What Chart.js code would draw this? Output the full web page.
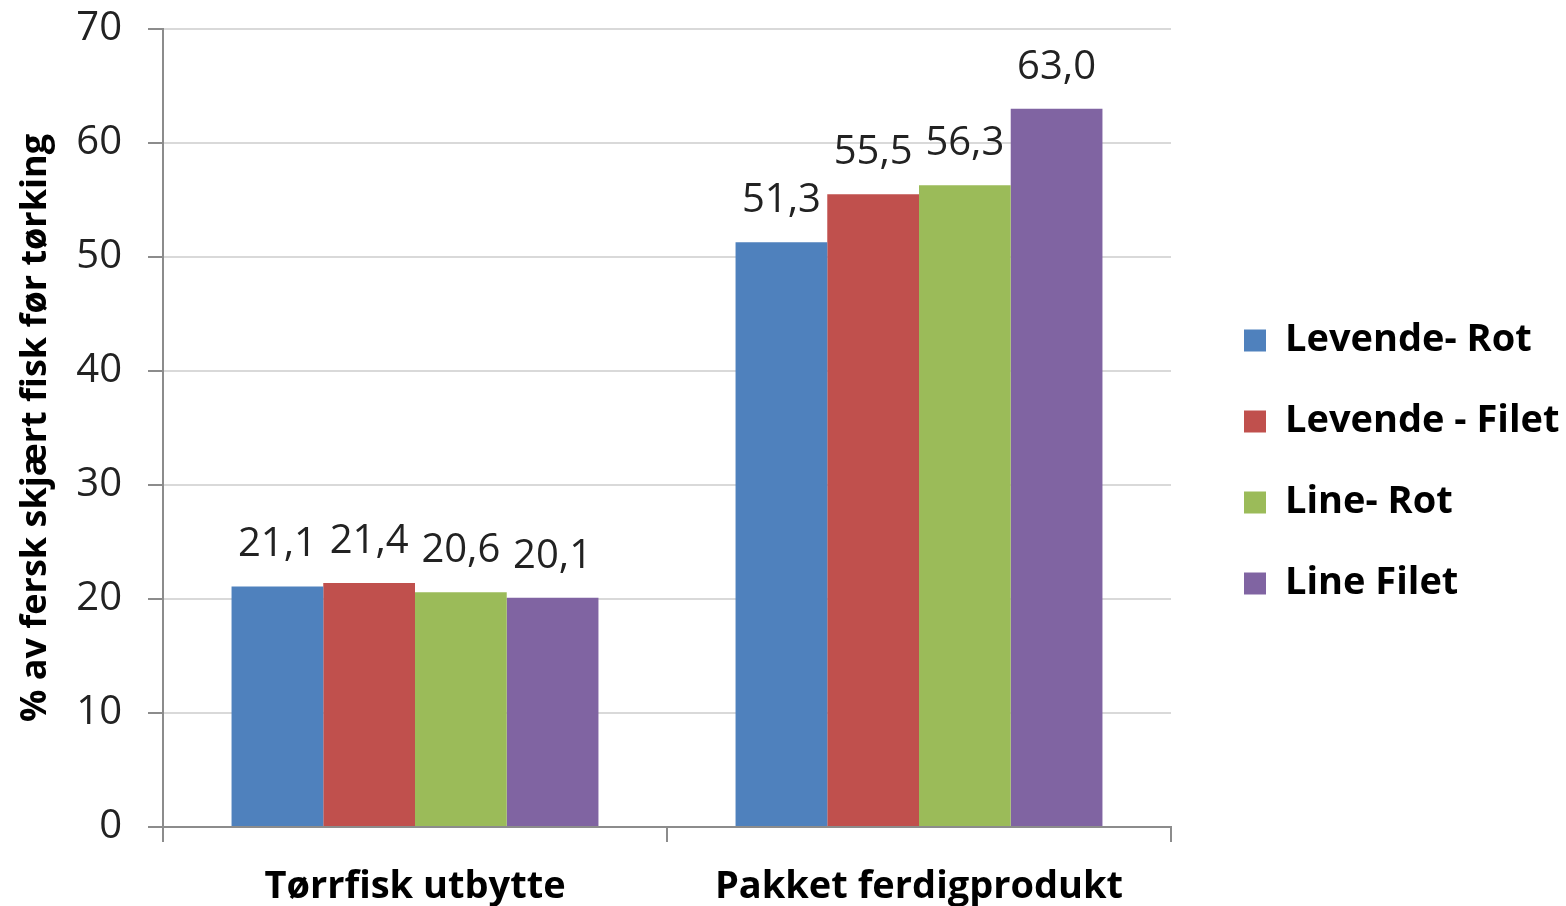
<!DOCTYPE html>
<html>
<head>
<meta charset="utf-8">
<script src="https://cdn.jsdelivr.net/npm/chart.js@4/dist/chart.umd.min.js"></script>
<style>
html,body{margin:0;padding:0;background:#fff;}
canvas{display:block;}
</style>
</head>
<body>
<canvas id="c" width="1566" height="906"></canvas>
<script>
const categories = ['Tørrfisk utbytte', 'Pakket ferdigprodukt'];
const seriesNames = ['Levende- Rot', 'Levende - Filet', 'Line- Rot', 'Line Filet'];
const levendeRot = [21.1, 51.3];
const levendeFilet = [21.4, 55.5];
const lineRot = [20.6, 56.3];
const lineFilet = [20.1, 63.0];
const seriesColors = ['#4F81BD', '#C0504D', '#9BBB59', '#8064A2'];
const yTicks = [0, 10, 20, 30, 40, 50, 60, 70];
const yTitle = '% av fersk skjært fisk før tørking';

const seriesValues = [levendeRot, levendeFilet, lineRot, lineFilet];

const NUM_FONT = '"Open Sans", sans-serif';
const BOLD_FONT = '"Open Sans", sans-serif';

const dataLabels = {
  id: 'dataLabels',
  afterDatasetsDraw(chart) {
    const ctx = chart.ctx;
    ctx.save();
    ctx.font = '40px ' + NUM_FONT;
    ctx.fillStyle = '#222';
    ctx.textAlign = 'center';
    ctx.textBaseline = 'alphabetic';
    chart.data.datasets.forEach((ds, i) => {
      const meta = chart.getDatasetMeta(i);
      meta.data.forEach((el, j) => {
        const v = ds.data[j];
        ctx.fillText(v.toFixed(1).replace('.', ','), el.x, el.y - 30);
      });
    });
    ctx.restore();
  }
};

const legendFix = {
  id: 'legendFix',
  beforeInit(chart) {
    const lg = chart.legend;
    if (lg) {
      const orig = lg.fit;
      lg.fit = function () { orig.call(this); this.width = 395; };
    }
  },
  afterLayout(chart) {
    const lg = chart.legend;
    if (lg) { lg.left += 30; lg.right += 30; lg.top += 5; lg.bottom += 5; }
  }
};

new Chart(document.getElementById('c'), {
  type: 'bar',
  data: {
    labels: categories,
    datasets: seriesValues.map((vals, i) => ({
      label: seriesNames[i],
      data: vals,
      backgroundColor: seriesColors[i],
      borderWidth: 0,
      categoryPercentage: 0.728,
      barPercentage: 1.0
    }))
  },
  options: {
    responsive: false,
    animation: false,
    devicePixelRatio: 1,
    layout: { padding: { top: 8, right: 0, bottom: 0, left: 0 } },
    plugins: {
      tooltip: { enabled: false },
      legend: {
        position: 'right',
        labels: {
          boxWidth: 22,
          boxHeight: 22,
          padding: 43,
          color: '#000',
          font: { family: BOLD_FONT, size: 38, weight: 'bold' }
        }
      }
    },
    scales: {
      x: {
        grid: {
          offset: true,
          drawOnChartArea: false,
          drawTicks: true,
          tickLength: 15,
          color: '#8c8c8c',
          lineWidth: 2
        },
        border: { display: true, color: '#8c8c8c', width: 2 },
        ticks: {
          color: '#000',
          padding: 22,
          font: { family: BOLD_FONT, size: 38, weight: 'bold' }
        },
        afterFit(scale) { scale.height = 79; }
      },
      y: {
        min: 0,
        max: 70,
        afterBuildTicks(scale) { scale.ticks = yTicks.map(v => ({ value: v })); },
        grid: {
          color: '#d9d9d9',
          lineWidth: 2,
          tickColor: '#8c8c8c',
          tickLength: 15
        },
        border: { display: true, color: '#8c8c8c', width: 2 },
        ticks: {
          color: '#222',
          padding: 26,
          font: { family: NUM_FONT, size: 40 },
          callback: (v) => String(v)
        },
        title: {
          display: true,
          text: yTitle,
          color: '#000',
          padding: { top: 14, bottom: 0 },
          font: { family: BOLD_FONT, size: 36, weight: 'bold' }
        },
        afterFit(scale) { scale.width = 163; scale.paddingTop = 29; scale.paddingBottom = 0; }
      }
    }
  },
  plugins: [dataLabels, legendFix]
});
</script>
</body>
</html>
